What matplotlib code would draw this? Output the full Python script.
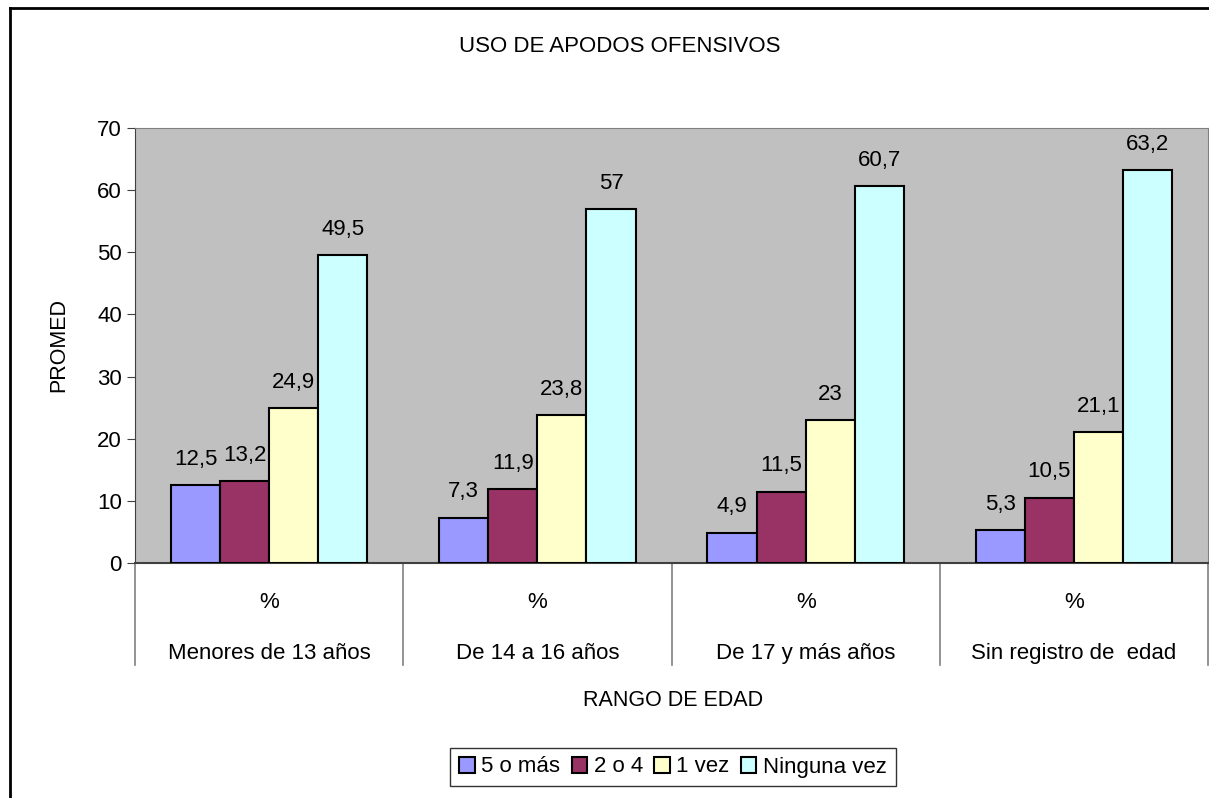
import matplotlib.pyplot as plt
from matplotlib.lines import Line2D
from matplotlib.transforms import blended_transform_factory
import numpy as np

plt.rcParams['font.family'] = ['Liberation Sans', 'DejaVu Sans']

groups = ['Menores de 13 años', 'De 14 a 16 años', 'De 17 y más años', 'Sin registro de  edad']
series = ['5 o más', '2 o 4', '1 vez', 'Ninguna vez']
cinco_o_mas = [12.5, 7.3, 4.9, 5.3]
dos_o_cuatro = [13.2, 11.9, 11.5, 10.5]
una_vez = [24.9, 23.8, 23.0, 21.1]
ninguna_vez = [49.5, 57.0, 60.7, 63.2]
labels = [['12,5', '7,3', '4,9', '5,3'],
          ['13,2', '11,9', '11,5', '10,5'],
          ['24,9', '23,8', '23', '21,1'],
          ['49,5', '57', '60,7', '63,2']]
colors = ['#9999FF', '#993366', '#FFFFCC', '#CCFFFF']

fig = plt.figure(figsize=(12.09, 7.98), dpi=100)
ax = fig.add_axes([135 / 1209, 1 - 563 / 798, 1073 / 1209, 435 / 798])
ax.set_facecolor('#C0C0C0')

x = np.arange(len(groups))
w = 0.183
values = [cinco_o_mas, dos_o_cuatro, una_vez, ninguna_vez]
for i, (vals, name, col) in enumerate(zip(values, series, colors)):
    pos = x + (i - 1.5) * w
    ax.bar(pos, vals, w, color=col, edgecolor='black', linewidth=1.5, label=name, zorder=3)
    for px, v, lab in zip(pos, vals, labels[i]):
        ax.annotate(lab, (px, v), xytext=(0, 11), textcoords='offset points',
                    ha='center', va='bottom', fontsize=16)

ax.set_xlim(-0.5, 3.5)
ax.set_ylim(0, 70)
ax.set_yticks(range(0, 71, 10))
ax.tick_params(axis='y', labelsize=16, length=6, color='#404040', direction='out')
ax.set_xticks([])
for s in ['top', 'right']:
    ax.spines[s].set_color('#808080')
ax.spines['left'].set_color('#404040')
ax.spines['bottom'].set_color('#404040')
ax.spines['bottom'].set_linewidth(1.5)

# category table below axis
tr = blended_transform_factory(ax.transData, ax.transAxes)
for b in np.arange(-0.5, 4.0, 1.0):
    ax.add_line(Line2D([b, b], [0, -0.235], transform=tr, color='#808080',
                       linewidth=1.2, clip_on=False))
for xi, g in zip(x, groups):
    ax.text(xi, -0.09, '%', transform=tr, ha='center', va='center', fontsize=16)
    ax.text(xi, -0.207, g, transform=tr, ha='center', va='center', fontsize=16)

ax.set_ylabel('PROMED', fontsize=15.5, labelpad=20)
fig.text(673 / 1209, 1 - 700 / 798, 'RANGO DE EDAD', ha='center', va='center', fontsize=15.5)
fig.text(620 / 1209, 1 - 47 / 798, 'USO DE APODOS OFENSIVOS', ha='center', va='center', fontsize=16)

leg = fig.legend(loc='center', bbox_to_anchor=(673 / 1209, 1 - 767 / 798), ncol=4,
                 fontsize=16, handlelength=0.7, handleheight=0.7, handletextpad=0.3,
                 columnspacing=0.5, fancybox=False, edgecolor='black', borderpad=0.4)
leg.get_frame().set_linewidth(1.0)

# outer chart border
fig.add_artist(Line2D([10 / 1209, 10 / 1209], [0, 1 - 8 / 798], color='black', linewidth=2))
fig.add_artist(Line2D([10 / 1209, 1], [1 - 8 / 798, 1 - 8 / 798], color='black', linewidth=2))

fig.savefig('out.png', dpi=100)
